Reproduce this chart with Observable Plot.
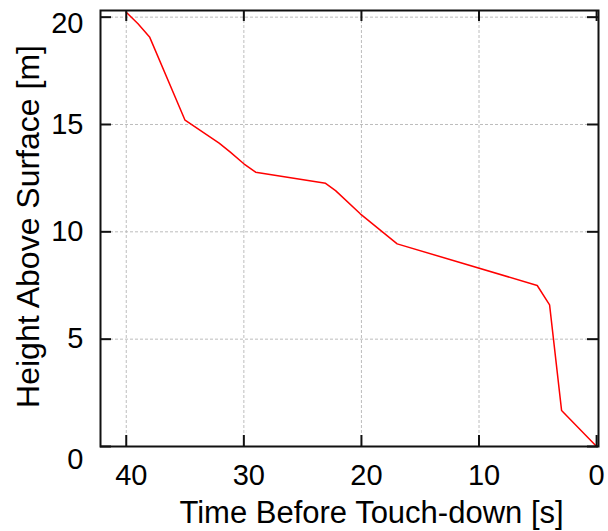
<!DOCTYPE html>
<html>
<head>
<meta charset="utf-8">
<script src="https://cdn.jsdelivr.net/npm/d3@7"></script>
<script src="https://cdn.jsdelivr.net/npm/@observablehq/plot@0.6"></script>
<style>
  html, body { margin: 0; padding: 0; background: #fff; }
  svg { font-family: "Liberation Sans", Arial, Helvetica, sans-serif; }
</style>
</head>
<body>
<div id="chart"></div>
<script>
// Data
const timeBefore = [40.0, 39.0, 38.0, 35.0, 32.1, 31.15, 30.0, 29.0, 23.05, 22.2, 20.1, 16.96, 5.05, 4.0, 2.98, 0.0];
const height     = [20.23, 19.69, 19.06, 15.2, 14.13, 13.71, 13.17, 12.78, 12.26, 11.92, 10.84, 9.44, 7.5, 6.6, 1.68, 0.0];
const xTicks = [40, 30, 20, 10, 0];
const yTicks = [0, 5, 10, 15, 20];
const xLabel = "Time Before Touch-down [s]";
const yLabel = "Height Above Surface [m]";

const data = timeBefore.map((t, i) => ({t, h: height[i]}));

const W = 608, H = 531;
const mL = 100, mR = 10, mT = 10, mB = 85;
const fw = W - mL - mR, fh = H - mT - mB;
const tickLen = 11;
const ink = "#111";

const plot = Plot.plot({
  width: W,
  height: H,
  marginLeft: mL,
  marginRight: mR,
  marginTop: mT,
  marginBottom: mB,
  style: {fontFamily: '"Liberation Sans", Arial, Helvetica, sans-serif', background: "#fff"},
  x: {domain: [42.19, -0.16], axis: null},
  y: {domain: [0, 20.31], axis: null},
  marks: [
    // grid
    Plot.ruleX(xTicks.filter(d => d !== 0), {x: d => d, stroke: "#bdbdbd", strokeWidth: 1, strokeDasharray: "3,2"}),
    Plot.ruleY(yTicks.filter(d => d !== 0), {y: d => d, stroke: "#bdbdbd", strokeWidth: 1, strokeDasharray: "3,2"}),
    // data line
    Plot.line(data, {x: "t", y: "h", stroke: "#ff0000", strokeWidth: 1.5}),
    // frame
    Plot.frame({stroke: ink, strokeWidth: 2}),
    // inward ticks (bottom, top, left, right)
    Plot.ruleX(xTicks, {x: d => d, insetTop: fh - tickLen, stroke: ink, strokeWidth: 2}),
    Plot.ruleX(xTicks, {x: d => d, insetBottom: fh - tickLen, stroke: ink, strokeWidth: 2}),
    Plot.ruleY(yTicks, {y: d => d, insetRight: fw - tickLen, stroke: ink, strokeWidth: 2}),
    Plot.ruleY(yTicks, {y: d => d, insetLeft: fw - tickLen, stroke: ink, strokeWidth: 2}),
    // x tick labels
    Plot.text(xTicks.filter(d => d !== 0), {x: d => d, frameAnchor: "bottom", lineAnchor: "middle", textAnchor: "middle", dy: 29, dx: 5, text: d => String(d), fontSize: 29, fill: "#000"}),
    Plot.text(xTicks.filter(d => d === 0), {x: d => d, frameAnchor: "bottom", lineAnchor: "middle", textAnchor: "middle", dy: 29, dx: 0, text: d => String(d), fontSize: 29, fill: "#000"}),
    // y tick labels
    Plot.text(yTicks.filter(d => d !== 0 && d !== 20), {y: d => d, frameAnchor: "left", lineAnchor: "middle", dx: -17, textAnchor: "end", text: d => String(d), fontSize: 29, fill: "#000"}),
    Plot.text(yTicks.filter(d => d === 20), {y: d => d, frameAnchor: "left", lineAnchor: "middle", dx: -17, dy: 7, textAnchor: "end", text: d => String(d), fontSize: 29, fill: "#000"}),
    Plot.text(yTicks.filter(d => d === 0), {y: d => d, frameAnchor: "left", lineAnchor: "middle", dx: -17, dy: 13, textAnchor: "end", text: d => String(d), fontSize: 29, fill: "#000"}),
    // axis titles
    Plot.text([xLabel], {frameAnchor: "bottom", lineAnchor: "middle", textAnchor: "middle", dy: 67, dx: 22, text: d => d, fontSize: 31, fill: "#000"}),
    Plot.text([yLabel], {frameAnchor: "left", lineAnchor: "middle", textAnchor: "middle", dx: -72, dy: -2, rotate: -90, text: d => d, fontSize: 32, fill: "#000"})
  ]
});
document.getElementById("chart").appendChild(plot);
</script>
</body>
</html>
